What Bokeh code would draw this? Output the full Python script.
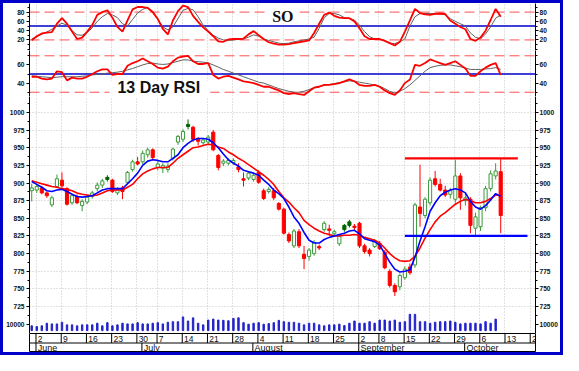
from bokeh.plotting import figure
from bokeh.models import Range1d, LinearAxis, FixedTicker, Span, Grid, Label, ColumnDataSource
from bokeh.layouts import column
from bokeh.embed import file_html
from bokeh.resources import INLINE
from bokeh.core.properties import value

# ---------------- data (trading days from 30 May 2008, index 0) ----------------
opens = [889, 890, 893, 886, 869, 895, 904, 892, 872, 881,
         868, 873, 881, 892, 897, 905, 904, 886, 893, 901,
         919, 930, 930, 940, 947, 922, 921, 919, 935, 958,
         962, 980, 979, 962, 957, 958, 972, 939, 928, 928,
         929, 923, 906, 907, 905, 915, 889, 888, 889, 871,
         863, 827, 811, 831, 799, 796, 800, 810, 834, 835,
         828, 814, 834, 840, 839, 843, 811, 805, 810, 814,
         802, 775, 755, 753, 766, 781, 784, 866, 854, 872,
         906, 898, 890, 884, 877, 910, 875, 877, 836, 838,
         865, 892, 910, 916]
highs = [899, 898, 896, 888, 882, 912, 915, 894, 885, 884,
         877, 883, 889, 901, 906, 911, 906, 894, 896, 917,
         933, 937, 946, 950, 949, 931, 928, 928, 950, 968,
         976, 990, 981, 965, 964, 968, 975, 941, 934, 935,
         935, 928, 915, 917, 913, 918, 892, 894, 893, 873,
         865, 830, 835, 835, 811, 808, 819, 813, 846, 841,
         834, 827, 842, 848, 842, 845, 814, 808, 821, 818,
         805, 778, 758, 772, 782, 786, 872, 926, 880, 908,
         917, 906, 896, 893, 933, 914, 886, 880, 858, 868,
         896, 918, 928, 935]
lows = [874, 886, 884, 879, 866, 893, 893, 868, 869, 870,
        860, 870, 878, 888, 893, 902, 886, 883, 877, 898,
        916, 925, 927, 936, 933, 918, 914, 915, 932, 954,
        958, 976, 958, 953, 954, 955, 945, 918, 924, 925,
        926, 915, 895, 904, 902, 899, 876, 885, 876, 861,
        827, 815, 808, 808, 778, 790, 797, 805, 831, 825,
        824, 811, 831, 837, 833, 808, 800, 796, 808, 805,
        778, 752, 740, 748, 763, 770, 780, 838, 850, 868,
        895, 888, 880, 878, 872, 862, 868, 829, 826, 832,
        860, 888, 905, 829]
closes = [893, 895, 886, 882, 879, 906, 896, 870, 882, 872,
          874, 880, 886, 897, 903, 908, 888, 891, 888, 915,
          930, 927, 942, 947, 936, 927, 925, 924, 948, 966,
          973, 983, 962, 959, 961, 965, 947, 922, 931, 932,
          932, 919, 904, 914, 911, 901, 878, 891, 879, 863,
          829, 818, 832, 811, 793, 805, 816, 808, 843, 833,
          831, 825, 840, 845, 837, 811, 803, 800, 818, 807,
          780, 755, 746, 769, 778, 773, 869, 857, 877, 904,
          898, 890, 883, 889, 910, 879, 879, 840, 852, 865,
          892, 913, 917, 854]
filled_up_days = [15, 31, 62, 63]
volume = [50, 43, 50, 77, 70, 70, 87, 60, 60, 50,
          60, 60, 60, 77, 50, 83, 50, 60, 77, 70,
          70, 83, 70, 70, 77, 83, 70, 87, 93, 93,
          143, 100, 133, 77, 60, 110, 120, 110, 107, 103,
          127, 133, 83, 67, 77, 83, 67, 73, 83, 107,
          93, 87, 87, 77, 60, 77, 77, 60, 50, 60,
          60, 67, 53, 77, 100, 77, 77, 93, 77, 110,
          110, 100, 110, 87, 93, 170, 170, 93, 93, 77,
          87, 93, 93, 100, 87, 70, 77, 77, 77, 70,
          93, 77, 120]
volume_label = "10000"
ma_fast = [902, 898, 894, 889, 888, 890, 891, 888, 884, 881,
           880, 881, 882, 886, 890, 892, 892, 892, 892, 899,
           906, 914, 925, 931, 933, 932, 930, 930, 935, 940,
           950, 956, 961, 963, 963, 962, 957, 950, 941, 933,
           928, 924, 918, 916, 914, 911, 904, 898, 890, 885,
           878, 866, 852, 843, 830, 819, 815, 815, 820, 823,
           825, 827, 829, 832, 833, 828, 821, 819, 817, 812,
           800, 788, 778, 774, 775, 777, 795, 818, 838, 860,
           872, 882, 887, 890, 892, 890, 886, 874, 866, 863,
           868, 876, 885, 881]
ma_slow = [903, 901, 899, 897, 895, 894, 892, 891, 889, 886,
           884, 883, 882, 883, 886, 889, 890, 890, 890, 894,
           898, 906, 913, 917, 920, 922, 922, 922, 928, 935,
           940, 945, 950, 951, 953, 955, 954, 951, 949, 944,
           940, 935, 931, 926, 921, 916, 911, 905, 898, 888,
           879, 873, 865, 858, 847, 841, 836, 832, 829, 827,
           825, 825, 826, 826, 827, 826, 823, 821, 819, 815,
           808, 800, 794, 790, 789, 790, 796, 808, 822, 834,
           845, 853, 858, 864, 870, 874, 877, 875, 872, 872,
           874, 878, 883, 882]
so_k = [19, 28, 34, 36, 37, 55, 67, 55, 38, 22,
        25, 38, 52, 74, 80, 84, 68, 48, 38, 62,
        86, 91, 91, 89, 80, 65, 44, 32, 62, 82,
        94, 91, 72, 59, 47, 38, 28, 17, 16, 21,
        22, 22, 23, 32, 39, 30, 22, 15, 12, 10,
        10, 11, 13, 15, 17, 19, 35, 55, 74, 79,
        72, 68, 67, 67, 60, 45, 28, 22, 22, 22,
        18, 13, 8, 16, 38, 62, 87, 78, 75, 74,
        76, 77, 76, 62, 55, 48, 43, 22, 18, 25,
        40, 63, 87, 70]
so_d = [22, 27, 32, 37, 43, 50, 56, 52, 40, 31,
        30, 36, 46, 60, 70, 77, 74, 68, 55, 50,
        64, 78, 86, 90, 82, 66, 48, 42, 48, 66,
        84, 88, 85, 70, 52, 40, 30, 24, 20, 19,
        20, 21, 22, 26, 31, 28, 22, 19, 16, 13,
        12, 13, 16, 18, 20, 22, 26, 45, 68, 77,
        77, 74, 68, 66, 63, 52, 38, 27, 22, 21,
        19, 13, 12, 16, 22, 50, 70, 77, 77, 77,
        77, 76, 74, 66, 60, 55, 50, 35, 26, 22,
        33, 48, 67, 74]
rsi = [47, 47, 45, 44, 45, 53, 52, 43, 46, 45,
       45, 47, 50, 53, 55, 55, 49, 50, 50, 59,
       62, 64, 67, 64, 61, 57, 56, 58, 64, 68,
       69, 70, 64, 61, 61, 62, 49, 45, 47, 48,
       46, 44, 42, 41, 40, 38, 36, 36, 34, 32,
       29, 28, 29, 28, 27, 31, 35, 36, 38, 38,
       39, 40, 42, 44, 42, 38, 37, 37, 38, 36,
       32, 29, 27, 32, 40, 44, 60, 59, 62, 66,
       64, 62, 60, 62, 64, 60, 56, 48, 48, 53,
       57, 60, 62, 49]
rsi_avg = [48, 47.5, 47, 46.5, 46, 46.5, 47, 47, 47, 47,
           47.5, 48, 49, 49.5, 50, 51, 51.5, 52, 53, 54.5,
           56, 58, 60, 61.5, 62, 61, 60.5, 61, 62.5, 64,
           65.5, 65.5, 64, 63.5, 63, 62, 60, 57.5, 55, 53,
           51, 49, 47, 45, 43, 41, 40, 38, 36, 34,
           32.5, 31, 30, 30, 31, 33, 35, 36.5, 37.5, 38.5,
           39.5, 40.5, 41.5, 42.5, 42, 41, 40, 39, 38, 36.5,
           34, 31, 29, 31, 34, 38, 43, 48, 53, 57,
           58.5, 59.5, 60, 60, 59, 58, 56.5, 55, 55, 55,
           55.5, 56, 57, 55]
week_days = [1, 6, 11, 16, 21, 25, 30, 35, 40, 45, 50, 55, 60, 65, 69, 74, 79, 84, 89, 94, 99]
week_labels = ["2", "9", "16", "23", "30", "7", "14", "21", "28", "4", "11", "18", "25",
               "2", "8", "15", "22", "29", "6", "13", "20"]
month_days = [1, 22, 44, 65, 86]
month_labels = ["June", "July", "August", "September", "October"]
price_ticks = [725, 750, 775, 800, 825, 850, 875, 900, 925, 950, 975, 1000]
volume_tick = 700
so_ticks = [20, 40, 60, 80]
rsi_ticks = [40, 60]
so_bands = [20, 80]
rsi_bands = [30, 70]
mid_level = 50
resistance_x = [74, 96.4]
resistance_y = [935, 935]
support_x = [74, 98.3]
support_y = [825, 825]

# ---------------- layout constants ----------------
W = 557
ML, MR = 24, 23
RED = "#ff0000"
BLUE = "#0000ff"
GRID = "#c4c4c4"
xr = Range1d(-0.44, 99.9)
grid_x = [d - 0.15 for d in week_days]


def make_fig(h, yr, outline=None):
    p = figure(width=W, height=h, x_range=xr, y_range=yr, output_backend="svg",
               toolbar_location=None, x_axis_location=None, y_axis_location=None,
               min_border_left=ML, min_border_right=MR, min_border_top=0, min_border_bottom=0,
               outline_line_color=outline, background_fill_color="white",
               border_fill_color="white")
    p.grid.grid_line_color = None
    return p


def add_vgrid(p):
    p.add_layout(Grid(dimension=0, ticker=FixedTicker(ticks=grid_x),
                      grid_line_color=GRID, grid_line_dash="1 2"))


def add_axes(p, ticks, minor, overrides=None, y_range_name="default"):
    for side in ("left", "right"):
        ax = LinearAxis(ticker=FixedTicker(ticks=ticks, minor_ticks=minor),
                        y_range_name=y_range_name)
        ax.axis_line_color = "black"
        ax.major_tick_line_color = "black"
        ax.minor_tick_line_color = "black"
        ax.major_tick_out = 3
        ax.major_tick_in = 0
        ax.minor_tick_out = 2
        ax.minor_tick_in = 0
        ax.major_label_text_font = "Liberation Sans"
        ax.major_label_text_font_style = "bold"
        ax.major_label_text_font_size = "6.6px"
        ax.major_label_text_color = "#101010"
        ax.major_label_standoff = 2 if side == "left" else 1
        if overrides:
            ax.major_label_overrides = overrides
        p.add_layout(ax, side)


def add_levels(p, bands):
    for b in bands:
        p.add_layout(Span(location=b, dimension="width", line_color="#ff5050",
                          line_dash="10 5", line_width=1, level="underlay"))
    p.add_layout(Span(location=mid_level, dimension="width", line_color="#0000cc",
                      line_width=1.6, level="underlay"))


days = list(range(len(closes)))

# ---------------- SO panel ----------------
so_fig = make_fig(47, Range1d(-2.8, 98.6))
add_vgrid(so_fig)
add_axes(so_fig, so_ticks, [0, 10, 30, 50, 70, 90, 100])
add_levels(so_fig, so_bands)
so_fig.quad(left=[46.3], right=[53.1], bottom=[56], top=[96], fill_color="white", line_color=None)
so_fig.line(days, so_d, line_color="#606060", line_width=1)
so_fig.line(days, so_k, line_color=RED, line_width=1.8)
so_fig.add_layout(Label(x=49.8, y=71, text="SO", text_align="center", text_baseline="middle",
                        text_font="Liberation Serif", text_font_style="bold",
                        text_font_size="16px", text_color="#101010"))

# ---------------- RSI panel ----------------
rsi_fig = make_fig(46, Range1d(25.3, 75.8))
add_vgrid(rsi_fig)
add_axes(rsi_fig, rsi_ticks, [30, 50, 70])
add_levels(rsi_fig, rsi_bands)
rsi_fig.quad(left=[15.4], right=[35.4], bottom=[25.3], top=[42.5], fill_color="white", line_color=None)
rsi_fig.line(days, rsi_avg, line_color="#606060", line_width=1)
rsi_fig.line(days, rsi, line_color=RED, line_width=1.8)
rsi_fig.add_layout(Label(x=25.2, y=35.5, text="13 Day RSI", text_align="center", text_baseline="middle",
                         text_font="Liberation Sans", text_font_style="bold",
                         text_font_size="16px", text_color="#101010"))

# ---------------- price panel ----------------
price_fig = make_fig(237, Range1d(686.9, 1022.5))
price_fig.extra_y_ranges = {"vol": Range1d(-30, 2440)}
add_vgrid(price_fig)
price_fig.add_layout(Grid(dimension=1, ticker=FixedTicker(ticks=price_ticks),
                          grid_line_color=GRID, grid_line_dash="1 2"))
minor_p = [687.5 + 12.5 * i for i in range(27)]
add_axes(price_fig, [volume_tick] + price_ticks, minor_p, overrides={volume_tick: volume_label})

fill, line = [], []
for i in days:
    if i in filled_up_days:
        fill.append("#006400"); line.append("#006400")
    elif closes[i] >= opens[i]:
        fill.append("white"); line.append("#3a9a3a")
    else:
        fill.append(RED); line.append(RED)
src = ColumnDataSource(dict(x=days, o=opens, h=highs, l=lows, c=closes,
                            top=[max(a, b) for a, b in zip(opens, closes)],
                            bot=[min(a, b) for a, b in zip(opens, closes)],
                            fill=fill, line=line))
price_fig.vbar(x=list(range(len(volume))), top=volume, width=0.28, color="#2222cc",
               y_range_name="vol")
price_fig.segment(x0="x", y0="l", x1="x", y1="h", line_color="line", line_width=1, source=src)
price_fig.vbar(x="x", width=0.62, top="top", bottom="bot", fill_color="fill",
               line_color="line", line_width=1, source=src)
price_fig.line(days, ma_slow, line_color=RED, line_width=1.6)
price_fig.line(days, ma_fast, line_color=BLUE, line_width=1.6)
price_fig.line(resistance_x, resistance_y, line_color=RED, line_width=2.2)
price_fig.line(support_x, support_y, line_color=BLUE, line_width=2.2)

# ---------------- date axis ----------------
ax_fig = make_fig(19, Range1d(0, 1), outline="black")
ax_fig.outline_line_width = 1
ax_fig.add_layout(Span(location=0.5, dimension="width", line_color="black", line_width=1))
ax_fig.segment(x0=grid_x, y0=0.5, x1=grid_x, y1=1, line_color="black", line_width=1)
ax_fig.text(x=[g + 0.35 for g in grid_x], y=0.73, text=week_labels, text_font=value("Liberation Sans"),
            text_font_size="8.5px", text_baseline="middle", text_align="left", text_color="#101010")
mx = [d - 0.15 for d in month_days]
ax_fig.segment(x0=mx, y0=0, x1=mx, y1=0.5, line_color="black", line_width=1)
ax_fig.text(x=[m + 0.35 for m in mx], y=0.25, text=month_labels, text_font=value("Liberation Sans"),
            text_font_size="9px", text_baseline="middle", text_align="left", text_color="#101010")

layout = column(so_fig, rsi_fig, price_fig, ax_fig, spacing=0,
                styles={"border": "3px solid #0000c8"})

open("out.html", "w").write(file_html(layout, INLINE))
